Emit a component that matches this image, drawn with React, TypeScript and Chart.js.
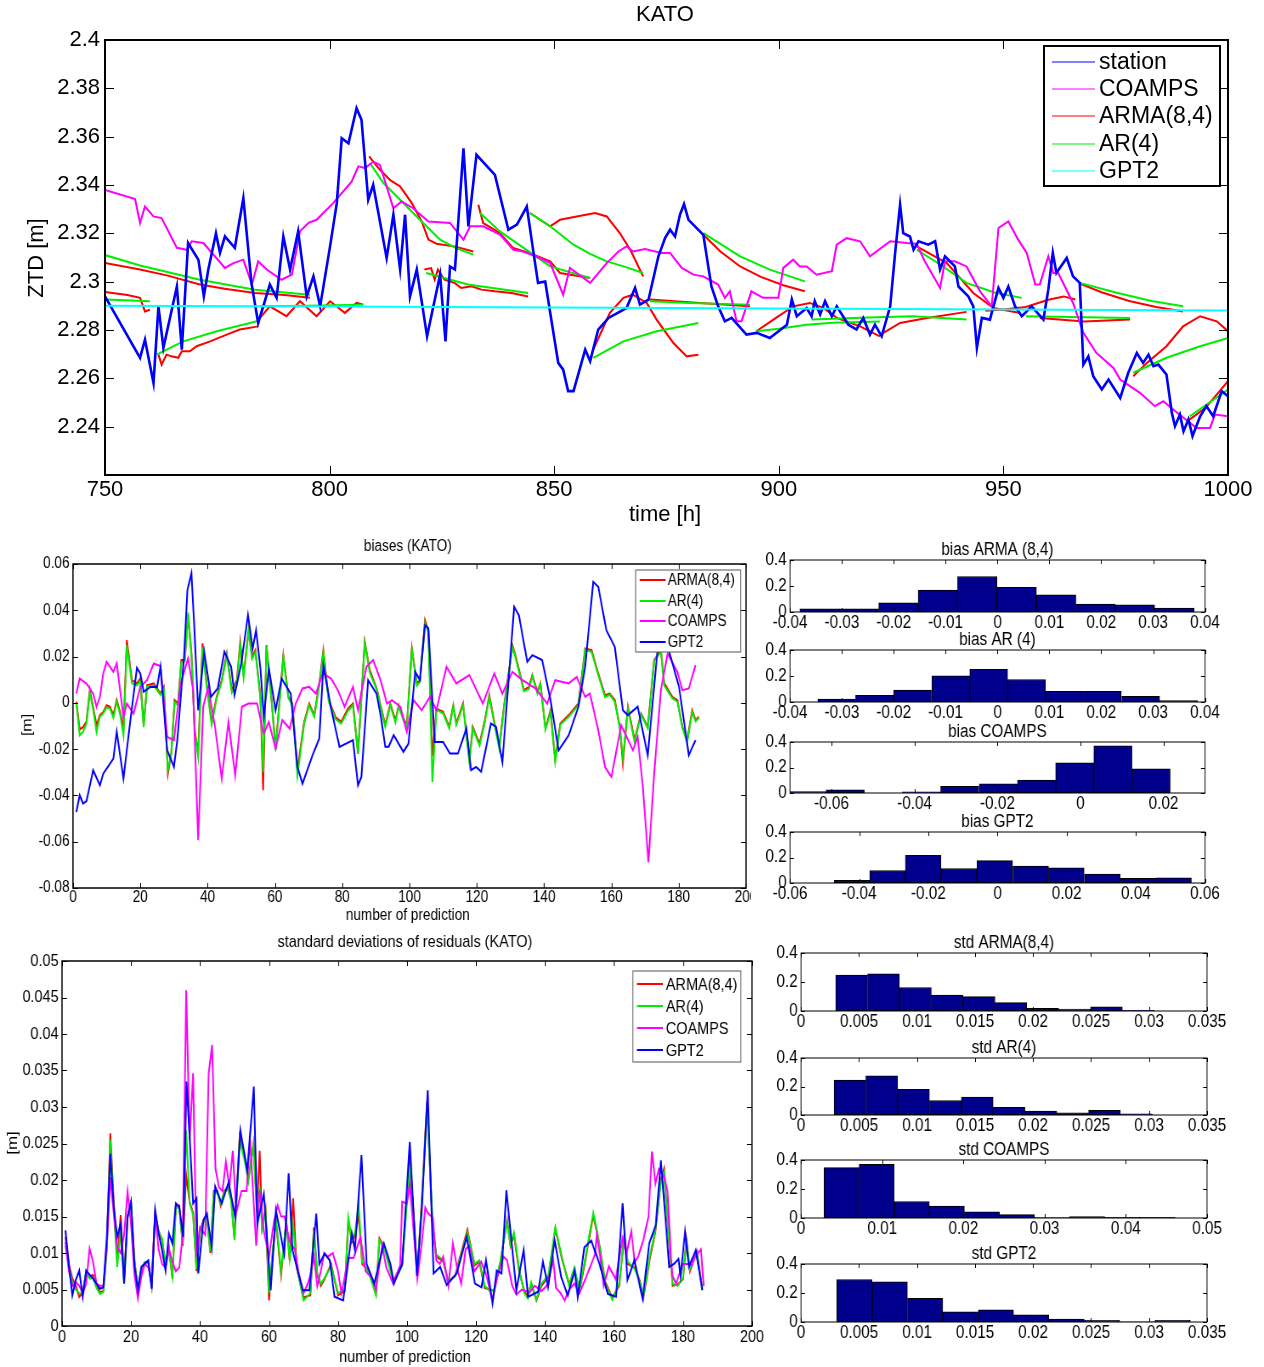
import React, { useEffect, useRef } from "react";
import { Chart, registerables } from "chart.js";
Chart.register(...registerables);

type Pair = [number, number];

// ====================== DATA ======================
// --- top panel: KATO ZTD time series ---
const timeTickLabels = ["750", "800", "850", "900", "950", "1000"];
const ztdTickLabels = ["2.24", "2.26", "2.28", "2.3", "2.32", "2.34", "2.36", "2.38", "2.4"];

const stationZTD: Pair[] = [
  [750, 2.2939], [757.8, 2.2685], [758.9, 2.276], [760.8, 2.2581], [761.9, 2.2898], [763, 2.2726], [766, 2.298], [767.1, 2.2719],
  [768.5, 2.316], [770.8, 2.309], [772, 2.2939], [773, 2.305], [774.7, 2.32], [775.6, 2.3119], [776.7, 2.3187], [778.9, 2.314],
  [780.8, 2.3346], [782.6, 2.2995], [784.1, 2.2829], [786.7, 2.2988], [788.2, 2.2933], [789.7, 2.3187], [791.2, 2.305], [793, 2.3208],
  [794.9, 2.2939], [796.4, 2.3022], [797.9, 2.2898], [800.1, 2.3146], [801.6, 2.3325], [802.7, 2.3594], [804.2, 2.3573], [806, 2.3718],
  [807.1, 2.367], [808.6, 2.3339], [809.7, 2.3401], [812.7, 2.3098], [814.2, 2.3277], [815.7, 2.305], [816.8, 2.3277], [817.9, 2.2939],
  [819.4, 2.305], [821.7, 2.2774], [823.1, 2.2898], [824.6, 2.3029], [825.8, 2.2753], [826.8, 2.3063], [827.9, 2.305], [829.8, 2.3552],
  [830.9, 2.3229], [832.7, 2.3525], [836.8, 2.3442], [839.8, 2.3215], [841.7, 2.3236], [843.9, 2.3311], [845.4, 2.3119], [846.4, 2.2995],
  [848, 2.3001], [850.9, 2.2664], [852, 2.2636], [853.1, 2.2547], [854.3, 2.2547], [856.9, 2.2719], [858, 2.2671], [859.8, 2.2802],
  [862.1, 2.285], [866.1, 2.2891], [868, 2.2974], [869.1, 2.2905], [871, 2.2926], [873.2, 2.3105], [874.7, 2.3181], [875.8, 2.3215],
  [876.9, 2.3187], [878, 2.3277], [878.9, 2.3321], [879.9, 2.3256], [883.2, 2.3194], [885, 2.298], [886.5, 2.2898], [888, 2.2836],
  [889.5, 2.285], [892.8, 2.2781], [895.1, 2.2788], [898, 2.2767], [901.8, 2.2822], [902.9, 2.2926], [904, 2.2857], [906.2, 2.2891],
  [907.3, 2.2857], [908, 2.2919], [909.2, 2.2864], [910.3, 2.2919], [911.8, 2.2857], [912.9, 2.2898], [915.5, 2.2822], [917.3, 2.2802],
  [918.8, 2.285], [920.3, 2.2781], [921.4, 2.2822], [922.9, 2.2774], [924.8, 2.2898], [925.9, 2.3119], [927, 2.3318], [927.7, 2.3201],
  [929.2, 2.3187], [930, 2.3132], [931.1, 2.3167], [933.3, 2.3153], [934.8, 2.3167], [935.9, 2.305], [937, 2.3105], [939.2, 2.3063],
  [940, 2.298], [942.2, 2.2939], [943.3, 2.2898], [944.1, 2.2726], [945.2, 2.285], [947, 2.2843], [948.9, 2.2974], [950, 2.2933],
  [951.1, 2.298], [952.6, 2.2898], [954.1, 2.2857], [956.3, 2.2898], [958.9, 2.2843], [960, 2.2967], [961, 2.3119], [961.8, 2.3036],
  [964.1, 2.3098], [965.5, 2.3022], [967, 2.2995], [967.8, 2.2657], [968.9, 2.2691], [970, 2.2609], [971.9, 2.2554], [973.4, 2.2595],
  [976, 2.2519], [977.8, 2.2623], [979.7, 2.2705], [981.1, 2.2664], [982.3, 2.2698], [983.4, 2.265], [984.5, 2.2657], [986.3, 2.2616],
  [987.5, 2.2457], [988.2, 2.2402], [989.3, 2.245], [990.1, 2.2381], [991.2, 2.243], [992.1, 2.2361], [993.8, 2.2443], [995.2, 2.2485],
  [996.7, 2.2443], [998.6, 2.2547], [1000, 2.2526],
];

const coampsZTD: Pair[] = [
  [750, 2.338], [756.7, 2.3342], [757.8, 2.3243], [758.9, 2.3311], [760.8, 2.327], [762.6, 2.3263], [766, 2.314], [768.2, 2.3132],
  [769.3, 2.3167], [771.9, 2.316], [776.7, 2.3057], [778.6, 2.3077], [780.8, 2.3091], [782.7, 2.2988], [784.1, 2.3084], [786, 2.305],
  [789.3, 2.3008], [791.6, 2.3029], [793.4, 2.3208], [795.3, 2.3243], [797.1, 2.3256], [800.8, 2.3325], [804.9, 2.3414], [806.4, 2.3477],
  [807.9, 2.347], [809.7, 2.3497], [811.2, 2.3483], [814.2, 2.3304], [816, 2.3332], [818.6, 2.3304], [822, 2.3249], [826.8, 2.3243],
  [829.8, 2.3174], [831.3, 2.3229], [834.2, 2.3229], [838, 2.3194], [840.9, 2.3132], [843.1, 2.3125], [846.8, 2.3098], [849.1, 2.3077],
  [852, 2.2946], [853.5, 2.3057], [858, 2.2995], [861.7, 2.3077], [864.3, 2.3125], [866.1, 2.3146], [867.6, 2.3125], [870.2, 2.3135],
  [873.9, 2.3119], [875.8, 2.3119], [878.4, 2.3057], [881, 2.3029], [883.2, 2.3022], [886.5, 2.2988], [888, 2.2933], [889.1, 2.296],
  [890.6, 2.2836], [891.7, 2.2836], [893.9, 2.296], [896.5, 2.2933], [899.9, 2.2933], [901, 2.3057], [903.2, 2.3091], [904.7, 2.3063],
  [906.2, 2.3063], [908.4, 2.3029], [911.8, 2.3043], [912.9, 2.3153], [915.1, 2.318], [918.1, 2.3167], [920.3, 2.3105], [924.8, 2.3167],
  [928.5, 2.316], [930.7, 2.3157], [932.5, 2.3084], [935.9, 2.2974], [937, 2.3084], [939.2, 2.3084], [941.8, 2.3063], [944.8, 2.296],
  [947.4, 2.2898], [948.9, 2.3222], [951.1, 2.3249], [953.3, 2.3174], [955.2, 2.3119], [957.1, 2.2988], [958.1, 2.2988], [960, 2.3105],
  [961.1, 2.3036], [962.2, 2.3036], [965.5, 2.2912], [967.8, 2.2788], [970.7, 2.2705], [974.5, 2.2643], [976, 2.2595], [980.4, 2.254],
  [983.7, 2.2485], [985.6, 2.2505], [987.8, 2.2471], [991.5, 2.2416], [993, 2.2395], [996, 2.2395], [997.1, 2.245], [1000, 2.2443],
];

const gpt2ZTD: Pair[] = [[750, 2.29], [800, 2.2897], [850, 2.2893], [900, 2.2889], [950, 2.2885], [1000, 2.2881]];

const armaForecasts: Pair[][] = [
  [[750, 2.2957], [755, 2.2945], [757.8, 2.2933], [758.9, 2.2877], [760, 2.2884]],
  [[750, 2.3077], [757.8, 2.305], [764, 2.3025], [771.1, 2.2988], [777, 2.297], [783.4, 2.2953], [790, 2.2945], [795.6, 2.2933]],
  [[761.9, 2.2698], [762.6, 2.2657], [763.7, 2.2698], [764.8, 2.2691], [766.3, 2.2685], [767.1, 2.2712], [768.9, 2.2712], [770.4, 2.2733], [773.4, 2.2753], [777.1, 2.2781], [780, 2.2802], [784.1, 2.2815]],
  [[784.5, 2.285], [786.7, 2.2898], [790.4, 2.2857], [793.4, 2.2919], [797.1, 2.2857], [800.1, 2.2919], [803.4, 2.2871], [806, 2.2912], [807.5, 2.2905]],
  [[808.8, 2.3518], [811.2, 2.3463], [813.5, 2.342], [815.7, 2.3394], [818.3, 2.3325], [820.5, 2.3249], [822, 2.3174], [823.8, 2.3157], [828, 2.3145], [832, 2.3125]],
  [[821.1, 2.305], [822.6, 2.3056], [823.4, 2.3008], [824.1, 2.305], [825.6, 2.3008], [827.9, 2.2994], [829.3, 2.2974], [831.6, 2.2981], [833.8, 2.2967], [836.8, 2.296], [840.5, 2.2953], [844.2, 2.2939]],
  [[833.1, 2.3318], [834.2, 2.3242], [837.9, 2.3201], [840.9, 2.3139], [844.6, 2.3118], [849.1, 2.3084], [851.3, 2.3036], [858, 2.3015]],
  [[844.6, 2.3284], [849.1, 2.3229], [851.3, 2.3256], [855, 2.327], [859.1, 2.3284], [861.7, 2.327], [864.6, 2.3201], [867, 2.313], [869.8, 2.3022]],
  [[858.7, 2.2719], [862.4, 2.2871], [865.4, 2.2933], [867.5, 2.2946], [870.6, 2.2912], [872.8, 2.2843], [876.5, 2.2747], [879.5, 2.2691], [882.1, 2.2698]],
  [[871.3, 2.2926], [880, 2.2915], [893.6, 2.2898]],
  [[883.2, 2.3194], [887, 2.3125], [891.4, 2.3063], [896, 2.302], [901, 2.2985], [905.8, 2.296]],
  [[895, 2.2795], [898.8, 2.2843], [903.2, 2.2898], [906.9, 2.2912], [909.9, 2.2891], [912.9, 2.285], [918.1, 2.2815], [922.5, 2.2774]],
  [[923.3, 2.2788], [927, 2.2829], [933, 2.285], [941.8, 2.2875]],
  [[930.7, 2.3146], [937.4, 2.3077], [943.3, 2.2953], [947.8, 2.2891], [953.7, 2.287]],
  [[946, 2.288], [950, 2.2885], [955, 2.2895], [960, 2.2925], [963.4, 2.2939], [966, 2.2926]],
  [[958.1, 2.285], [968, 2.2835], [978.2, 2.2843]],
  [[967, 2.2992], [972, 2.2955], [978, 2.292], [984, 2.2895], [990, 2.2877]],
  [[978.9, 2.2609], [982, 2.2665], [986.3, 2.2733], [990, 2.2815], [993.8, 2.2857], [997.5, 2.2836], [1000, 2.2795]],
  [[991.5, 2.243], [995, 2.2478], [1000, 2.2588]],
];

const arForecasts: Pair[][] = [
  [[750, 2.2926], [760, 2.2919]],
  [[750, 2.311], [757.8, 2.3067], [771.1, 2.3008], [783.4, 2.2967], [795.6, 2.2946]],
  [[761.5, 2.2698], [767.4, 2.2753], [774.9, 2.2795], [783.8, 2.2836]],
  [[784.5, 2.2898], [795, 2.29], [807.5, 2.2905]],
  [[809, 2.349], [812, 2.3408], [815.7, 2.3339], [820.1, 2.3256], [824.6, 2.3174], [828, 2.314], [832, 2.3112]],
  [[821.5, 2.3036], [830.8, 2.2988], [844.2, 2.2953]],
  [[833.5, 2.3284], [837.9, 2.3208], [849.1, 2.3063], [858, 2.3015]],
  [[844.6, 2.3284], [849.1, 2.3229], [854.3, 2.3153], [858, 2.3115], [861.7, 2.3084], [866, 2.306], [869.8, 2.3036]],
  [[858.7, 2.2685], [865.4, 2.2753], [872.8, 2.2795], [882.1, 2.2829]],
  [[871.3, 2.2919], [880, 2.2912], [893.6, 2.2905]],
  [[883.2, 2.3201], [891.4, 2.3105], [898, 2.305], [905.8, 2.3001]],
  [[895, 2.2795], [900, 2.2805], [906.2, 2.2822], [912, 2.283], [922.5, 2.2835]],
  [[907.3, 2.2843], [920, 2.2852], [929.9, 2.2857], [941.8, 2.2843]],
  [[930.7, 2.3132], [936, 2.307], [941.8, 2.2995], [948, 2.2955], [954.1, 2.2933]],
  [[955, 2.2857], [978.2, 2.285]],
  [[967, 2.2995], [975, 2.2955], [983, 2.292], [990, 2.2898]],
  [[978.9, 2.2623], [986.3, 2.2685], [993.8, 2.2733], [1000, 2.2767]],
  [[991.5, 2.2443], [1000, 2.2554]],
];

// --- middle-left: biases ---
const predictionTickLabels = ["0", "20", "40", "60", "80", "100", "120", "140", "160", "180", "200"];
const biasTickLabels = ["-0.08", "-0.06", "-0.04", "-0.02", "0", "0.02", "0.04", "0.06"];

const biasARMA: Pair[] = [
  [1, 0.0005], [2, -0.0115], [3, -0.0105], [4, -0.0082], [5, 0.0055], [6, -0.002], [7, -0.0097], [8, -0.0053], [9, -0.004], [10, -0.001],
  [11, -0.0017], [12, -0.0053], [13, 0.0012], [14, -0.004], [15, -0.0111], [16, 0.0271], [17.5, 0.0098], [19, 0.0084], [20, 0.0105],
  [21, -0.0097], [22, 0.0076], [24, 0.0084], [26, 0.004], [27, 0.0069], [28.2, -0.0306], [29.2, -0.0219], [30.2, 0.0012], [31.2, -0.0003],
  [32.2, 0.0185], [33.2, 0.0185], [34.2, 0.0379], [35.2, 0.0213], [36.2, -0.0118], [37.2, -0.0219], [38.5, 0.0257], [39.7, 0.0084],
  [41.2, -0.0082], [42.7, 0.0026], [44.2, 0.0098], [45.7, 0.0213], [47.2, 0.0055], [48.7, 0.0098], [49.7, 0.0264], [50.7, 0.012],
  [52.2, 0.0314], [53.2, 0.0199], [54.2, 0.0228], [55.7, 0.0026], [56.5, -0.0378], [57.5, 0.0249], [59.2, -0.0017], [60.2, -0.0198],
  [62.5, 0.0206], [64, 0.0026], [65.2, -0.0003], [66.7, -0.0291], [68.7, -0.0082], [70.2, -0.0003], [71.7, -0.0053], [73.2, 0.0084],
  [74.4, 0.0228], [76, 0.0012], [78, -0.0061], [79.7, -0.0082], [81.7, -0.0025], [83.2, -0.0003], [84.7, -0.0219], [86.7, 0.0264],
  [88.2, 0.0141], [90.3, 0.006], [92.8, -0.0097], [94.3, -0.0003], [95.8, -0.0075], [96.8, -0.001], [98.2, -0.0068], [99.2, -0.0097],
  [100.7, 0.0235], [102.2, 0.0084], [103.1, 0.0098], [104.6, 0.0358], [105.6, 0.0314], [106.8, -0.023], [108, -0.0025], [110, -0.0039],
  [111.8, -0.0104], [113, -0.001], [113.9, -0.0089], [115.9, -0.0003], [117.8, -0.0248], [118.8, -0.0104], [120.8, -0.0176],
  [122.3, -0.0082], [123.7, 0.0033], [125.2, -0.0082], [126.7, -0.019], [128.1, -0.001], [130.6, 0.0249], [131.6, 0.0199], [134, 0.0055],
  [135.5, 0.0069], [136.5, 0.012], [138, 0.0048], [138.9, 0.0084], [140.4, -0.0111], [141.9, -0.0032], [143.3, -0.0248], [144.8, -0.0089],
  [147.3, -0.0053], [150.2, -0.0003], [152.2, 0.0235], [154.1, 0.0228], [156.1, 0.0127], [158.1, 0.0033], [159.5, 0.004], [161, 0.0012],
  [162.5, -0.0104], [163.4, -0.0262], [164.9, -0.0017], [166.9, -0.0161], [168.8, -0.0046], [170.8, -0.0104], [172.7, 0.0185],
  [174.7, 0.0228], [175.7, 0.0084], [178.1, 0.0026], [179.6, 0.0012], [181.1, -0.0104], [182.5, -0.0161], [184, -0.0032], [185, -0.0075],
  [186, -0.006],
];

const biasAR: Pair[] = [
  [1, 0.0], [2, -0.014], [3, -0.0125], [4, -0.009], [5, 0.0045], [6, -0.003], [7, -0.0125], [8, -0.006], [9, -0.0045], [10, -0.002],
  [11, -0.0025], [12, -0.0065], [13, 0.0005], [14, -0.005], [15, -0.014], [16, 0.025], [17.5, 0.0085], [19, 0.0075], [20, 0.0095],
  [21, -0.0105], [22, 0.007], [24, 0.0075], [26, 0.0035], [27, 0.006], [28.2, -0.029], [29.2, -0.022], [30.2, 0.0005], [31.2, -0.001],
  [32.2, 0.0175], [33.2, 0.018], [34.2, 0.039], [35.2, 0.0205], [36.2, -0.0125], [37.2, -0.0235], [38.5, 0.024], [39.7, 0.0075],
  [41.2, -0.0095], [42.7, 0.002], [44.2, 0.009], [45.7, 0.0205], [47.2, 0.0045], [48.7, 0.009], [49.7, 0.025], [50.7, 0.011],
  [52.2, 0.031], [53.2, 0.019], [54.2, 0.022], [55.7, 0.002], [56.5, -0.03], [57.5, 0.0245], [59.2, -0.0025], [60.2, -0.0205],
  [62.5, 0.02], [64, 0.002], [65.2, -0.001], [66.7, -0.0315], [68.7, -0.009], [70.2, -0.001], [71.7, -0.006], [73.2, 0.0075],
  [74.4, 0.022], [76, 0.0005], [78, -0.007], [79.7, -0.009], [81.7, -0.0035], [83.2, -0.001], [84.7, -0.022], [86.7, 0.026],
  [88.2, 0.013], [90.3, 0.0055], [92.8, -0.0105], [94.3, -0.001], [95.8, -0.0085], [96.8, -0.0015], [98.2, -0.0075], [99.2, -0.0105],
  [100.7, 0.023], [102.2, 0.0075], [103.1, 0.009], [104.6, 0.0345], [105.6, 0.0305], [106.8, -0.0342], [108, -0.003], [110, -0.0045],
  [111.8, -0.011], [113, -0.0015], [113.9, -0.0095], [115.9, -0.001], [117.8, -0.026], [118.8, -0.011], [120.8, -0.0185],
  [122.3, -0.009], [123.7, 0.0025], [125.2, -0.009], [126.7, -0.02], [128.1, -0.0015], [130.6, 0.024], [131.6, 0.019], [134, 0.005],
  [135.5, 0.006], [136.5, 0.0115], [138, 0.004], [138.9, 0.008], [140.4, -0.0115], [141.9, -0.004], [143.3, -0.0255], [144.8, -0.0095],
  [147.3, -0.006], [150.2, -0.001], [152.2, 0.023], [154.1, 0.022], [156.1, 0.012], [158.1, 0.0025], [159.5, 0.0035], [161, 0.0005],
  [162.5, -0.011], [163.4, -0.024], [164.9, -0.0025], [166.9, -0.017], [168.8, -0.005], [170.8, -0.011], [172.7, 0.018],
  [174.7, 0.022], [175.7, 0.0075], [178.1, 0.002], [179.6, 0.0005], [181.1, -0.011], [182.5, -0.017], [184, -0.004], [185, -0.008],
  [186, -0.0065],
];

const biasCOAMPS: Pair[] = [
  [1, 0.004], [2, 0.0105], [4, 0.0084], [6, 0.004], [7, -0.0017], [8, 0.0026], [9, 0.0127], [10, 0.0177], [12, 0.0134], [13, 0.017],
  [15, -0.0061], [16, -0.0003], [18, -0.0046], [20, 0.0069], [22, 0.0098], [24, 0.017], [26, 0.0159], [28, -0.0147], [30, -0.0161],
  [32, 0.0084], [34.2, 0.0192], [35.7, 0.0055], [37.2, -0.0594], [38.7, -0.0017], [40.2, 0.0069], [42.2, -0.0104], [44.2, -0.0327],
  [46.2, -0.0082], [48.2, -0.0313], [50.2, -0.0017], [52.2, -0.0003], [54.7, -0.0003], [56.7, -0.0133], [58.2, -0.0082], [60.2, -0.0198],
  [62.2, -0.0075], [64.4, -0.0111], [66.2, -0.0003], [68.2, 0.0062], [70.2, 0.0069], [72.2, 0.004], [74.2, 0.0127], [76.7, 0.0105],
  [78.7, 0.0055], [80.7, -0.0017], [83.2, 0.0069], [84.7, -0.0032], [87.2, 0.0156], [89.2, 0.0185], [91.4, 0.0098], [93.3, -0.0003],
  [94.8, 0.0012], [97.3, -0.0017], [99.2, -0.0125], [101.2, 0.0012], [103.6, -0.0032], [106.1, 0.0026], [108, -0.0032], [111, 0.0156],
  [113.9, 0.0084], [117.8, 0.012], [121.8, -0.0003], [125.2, 0.0127], [127.6, 0.004], [130.6, 0.0134], [133.6, 0.0098], [137.5, 0.0062],
  [140.9, -0.0003], [143.3, 0.0098], [147.3, 0.0084], [149.7, 0.0112], [152.2, 0.0026], [153.6, 0.004], [156.1, -0.0118], [158.1, -0.0277],
  [160, -0.032], [162.9, -0.0097], [166.4, -0.0205], [167.8, -0.0147], [169.3, -0.0356], [171, -0.0688], [172.7, -0.0306], [174.7, 0.0055],
  [176.7, 0.0213], [179.6, 0.0134], [181.1, 0.0055], [183, 0.0062], [185, 0.0163],
];

const biasGPT2: Pair[] = [
  [1, -0.0472], [2, -0.0399], [3, -0.0435], [4, -0.0425], [6, -0.0291], [8, -0.0356], [9, -0.0306], [12, -0.0241], [13, -0.0125],
  [15, -0.0327], [17, -0.0082], [19, 0.0151], [20, 0.0127], [21, 0.0048], [23, 0.0069], [25, 0.0069], [26, 0.0156], [28, -0.0205],
  [30, -0.0277], [31, -0.0161], [33, 0.0199], [34, 0.0487], [35.2, 0.056], [36, 0.0343], [37.2, -0.0032], [39, 0.0221], [41, 0.0026],
  [43, 0.0062], [45, 0.0221], [47, 0.0156], [48, 0.0033], [50, 0.017], [52, 0.0379], [53.4, 0.0235], [54.4, 0.0314], [55.7, 0.0149],
  [56.7, -0.0061], [58.2, 0.0149], [60.2, -0.0032], [62, 0.0105], [64.7, 0.004], [66.7, -0.0277], [68.2, -0.0349], [71.2, -0.0226],
  [73.2, -0.0154], [74.4, 0.0163], [76.7, -0.0025], [79.2, -0.019], [83.2, -0.0161], [84.7, -0.0356], [85.7, -0.032], [87.7, 0.0098],
  [90.2, 0.004], [91.5, -0.006], [92.8, -0.019], [93.8, -0.019], [95.3, -0.014], [98.2, -0.0212], [99.7, -0.0176], [101.7, 0.0134],
  [103.1, 0.0098], [104.6, 0.0336], [105.6, 0.0322], [107.5, -0.0169], [110, -0.0169], [112, -0.0219], [114.4, -0.0219], [116.9, -0.0111],
  [118.3, -0.0291], [119.8, -0.0277], [121.3, -0.0298], [124.2, -0.0089], [125.7, -0.0104], [127.6, -0.0255], [131.1, 0.0415],
  [132.5, 0.0379], [135, 0.0177], [136.5, 0.0206], [139.4, 0.0185], [141.9, 0.0012], [144.3, -0.0205], [147.3, -0.014], [150.2, -0.0017],
  [152.2, 0.0156], [154.6, 0.0523], [156.1, 0.0502], [158.5, 0.0314], [161, 0.0242], [163.4, -0.0032], [164.9, -0.0053], [167.8, -0.0017],
  [170.8, -0.0226], [173.7, 0.0228], [175.5, 0.034], [177.2, 0.022], [180.1, 0.0069], [183, -0.0226], [185, -0.0161],
];

// --- bottom-left: standard deviations ---
const stdTickLabels = ["0", "0.005", "0.01", "0.015", "0.02", "0.025", "0.03", "0.035", "0.04", "0.045", "0.05"];

const stdARMA: Pair[] = [
  [1, 0.0122], [2, 0.0085], [3, 0.0065], [4, 0.0055], [5, 0.004], [6, 0.0046], [7, 0.0072], [8, 0.0068], [9, 0.007], [10, 0.0058],
  [11, 0.0046], [12, 0.0048], [13, 0.011], [14, 0.0264], [15, 0.017], [16, 0.009], [17, 0.0152], [18, 0.0065], [19, 0.015], [20, 0.017],
  [21, 0.009], [22, 0.005], [23, 0.0075], [24, 0.0085], [25, 0.0088], [26, 0.0055], [27, 0.0155], [28, 0.013], [29, 0.0118], [30, 0.0085],
  [31, 0.0108], [32, 0.0065], [33, 0.0165], [34, 0.0165], [35, 0.011], [36, 0.0207], [37, 0.017], [38, 0.0155], [39, 0.0075], [40, 0.013],
  [41, 0.0145], [42, 0.015], [43, 0.01], [44, 0.0185], [45, 0.0185], [46, 0.0165], [47, 0.0185], [48, 0.019], [49, 0.0175], [50, 0.012],
  [51.5, 0.026], [53, 0.023], [54, 0.02], [55.5, 0.025], [56.5, 0.016], [57.3, 0.024], [58, 0.0135], [59, 0.016], [60, 0.0035],
  [61, 0.0095], [62, 0.0145], [63.5, 0.007], [65, 0.0145], [66, 0.009], [67, 0.0175], [68, 0.008], [70, 0.0039], [72, 0.0042],
  [73, 0.0135], [74, 0.007], [75, 0.0055], [76, 0.0063], [78, 0.0085], [80, 0.0042], [82, 0.0048], [83, 0.0145], [84, 0.0115],
  [85, 0.0125], [86, 0.0152], [87, 0.0085], [89, 0.0075], [91, 0.0045], [92, 0.012], [93.5, 0.0108], [96, 0.0062], [98.6, 0.0085],
  [100.8, 0.0235], [103, 0.007], [104.5, 0.019], [105.8, 0.0307], [107.5, 0.013], [108.5, 0.0095], [110.5, 0.0088], [112, 0.006],
  [114, 0.007], [117.5, 0.0132], [119.6, 0.0083], [121, 0.0088], [122.5, 0.0052], [124, 0.005], [125.3, 0.0048], [127, 0.0085],
  [129, 0.0145], [130, 0.011], [131, 0.0125], [132.5, 0.0075], [134, 0.0048], [135, 0.004], [136, 0.0058], [137.5, 0.0035],
  [139, 0.0055], [141, 0.0068], [143, 0.0133], [145, 0.009], [147, 0.0057], [148.5, 0.0078], [150, 0.0048], [151.5, 0.0085],
  [154, 0.0152], [155.5, 0.0118], [157.5, 0.006], [159.5, 0.0039], [161.5, 0.0055], [163, 0.0125], [164, 0.0085], [166, 0.008],
  [167.5, 0.0062], [168.5, 0.0038], [170.5, 0.0095], [172, 0.0129], [173.6, 0.02], [174.5, 0.0215], [175.8, 0.0125], [177, 0.0055],
  [178.5, 0.0057], [180, 0.0064], [181, 0.0118], [182, 0.0075], [184, 0.0102], [185.6, 0.0052],
];

const stdAR: Pair[] = [
  [1, 0.011], [2, 0.008], [3, 0.006], [4, 0.005], [5, 0.0045], [6, 0.0044], [7, 0.0075], [8, 0.0065], [9, 0.0066], [10, 0.0052],
  [11, 0.0044], [12, 0.0047], [13, 0.0105], [14, 0.0255], [15, 0.016], [16, 0.0081], [17, 0.013], [18, 0.006], [19, 0.0148], [20, 0.0168],
  [21, 0.0088], [22, 0.0052], [23, 0.0078], [24, 0.0088], [25, 0.0085], [26, 0.0056], [27, 0.0152], [28, 0.0128], [29, 0.012], [30, 0.0082],
  [31, 0.0104], [32, 0.0068], [33, 0.0162], [34, 0.0162], [35, 0.0112], [36, 0.0268], [37, 0.0168], [38, 0.0152], [39, 0.0078],
  [40, 0.0128], [41, 0.0142], [42, 0.0148], [43, 0.0102], [44, 0.0183], [45, 0.0182], [46, 0.0168], [47, 0.0183], [48, 0.0188],
  [49, 0.0172], [50, 0.0118], [51.5, 0.0255], [53, 0.0225], [54, 0.0198], [55.5, 0.0248], [56.5, 0.0155], [57.3, 0.019], [58, 0.0133],
  [59, 0.0158], [60, 0.0045], [61, 0.0098], [62, 0.0148], [63.5, 0.0075], [65, 0.0142], [66, 0.0092], [67, 0.014], [68, 0.0082],
  [70, 0.0035], [72, 0.0045], [73, 0.013], [74, 0.0072], [75, 0.0058], [76, 0.0065], [78, 0.0082], [80, 0.0045], [82, 0.005],
  [83, 0.0148], [84, 0.0118], [85, 0.013], [86, 0.0165], [87, 0.0088], [89, 0.0072], [91, 0.0042], [92, 0.0118], [93.5, 0.0105],
  [96, 0.006], [98.6, 0.0082], [100.8, 0.022], [103, 0.0072], [104.5, 0.0185], [105.8, 0.03], [107.5, 0.0135], [108.5, 0.0098],
  [110.5, 0.009], [112, 0.0062], [114, 0.0068], [117.5, 0.0128], [119.6, 0.0085], [121, 0.009], [122.5, 0.0055], [124, 0.0048],
  [125.3, 0.005], [127, 0.0088], [129, 0.0142], [130, 0.0112], [131, 0.0128], [132.5, 0.0078], [134, 0.0045], [135, 0.0038],
  [136, 0.006], [137.5, 0.0036], [139, 0.0058], [141, 0.007], [143, 0.0135], [145, 0.0092], [147, 0.0055], [148.5, 0.008], [150, 0.005],
  [151.5, 0.0088], [154, 0.0155], [155.5, 0.012], [157.5, 0.0058], [159.5, 0.0036], [161.5, 0.0058], [163, 0.012], [164, 0.0088],
  [166, 0.0078], [167.5, 0.006], [168.5, 0.004], [170.5, 0.0098], [172, 0.0132], [173.6, 0.0198], [174.5, 0.021], [175.8, 0.0128],
  [177, 0.0058], [178.5, 0.0055], [180, 0.0066], [181, 0.0115], [182, 0.0078], [184, 0.01], [185.6, 0.005],
];

const stdCOAMPS: Pair[] = [
  [1, 0.0115], [2, 0.0075], [3, 0.0055], [4, 0.006], [5, 0.0055], [6, 0.0045], [7, 0.0058], [8, 0.0106], [9, 0.0088], [10, 0.0058],
  [11, 0.0055], [12, 0.0055], [13, 0.011], [14, 0.0204], [15, 0.0155], [16, 0.0108], [17, 0.01], [18, 0.0125], [19, 0.0184], [20, 0.014],
  [21, 0.007], [22, 0.0038], [23, 0.0068], [24, 0.0085], [25, 0.008], [26, 0.006], [27, 0.0155], [28, 0.0105], [29, 0.0085], [30, 0.008],
  [31, 0.0105], [32, 0.0088], [33, 0.0075], [34, 0.008], [35, 0.0125], [36, 0.046], [37, 0.0255], [38, 0.0346], [39, 0.0095],
  [40, 0.0135], [41.5, 0.0125], [42.5, 0.0345], [43.5, 0.0385], [44.5, 0.0215], [45.5, 0.019], [46.5, 0.0185], [47.5, 0.0225],
  [48.5, 0.019], [49.5, 0.024], [50.5, 0.0155], [52, 0.0185], [53.5, 0.0185], [54.5, 0.0255], [56.3, 0.011], [57.3, 0.0185],
  [58.5, 0.013], [60, 0.0095], [61.5, 0.0145], [62.5, 0.0165], [63.5, 0.015], [64.5, 0.015], [66, 0.0115], [67.5, 0.0105],
  [68.5, 0.0075], [70, 0.0045], [71, 0.0055], [72, 0.007], [73, 0.0095], [74, 0.0055], [75, 0.0075], [76, 0.01], [77, 0.0095],
  [78.5, 0.01], [80, 0.0075], [81, 0.0045], [83, 0.0093], [84.5, 0.0093], [86.5, 0.0122], [88, 0.0075], [90, 0.0065], [91, 0.005],
  [92.8, 0.011], [94, 0.008], [96, 0.0058], [98, 0.0083], [98.6, 0.017], [100, 0.0168], [100.8, 0.0195], [102, 0.0125], [103, 0.0065],
  [104.3, 0.0115], [105.3, 0.0162], [106, 0.0155], [107.5, 0.0148], [108.5, 0.009], [109.5, 0.0085], [110.5, 0.0095], [112, 0.0055],
  [113.3, 0.0113], [114.5, 0.008], [115.7, 0.0058], [117, 0.0105], [118, 0.011], [119.5, 0.0075], [121.5, 0.0088], [123, 0.007],
  [124.7, 0.0035], [126, 0.0065], [128, 0.0095], [129, 0.009], [130.5, 0.0055], [131.7, 0.0043], [133.3, 0.005], [135.5, 0.0046],
  [137, 0.0055], [139, 0.0048], [140.5, 0.0055], [142.4, 0.009], [143.2, 0.0052], [144.5, 0.0045], [145.7, 0.0035], [147, 0.005],
  [148.5, 0.0058], [150, 0.0045], [152, 0.0068], [154.5, 0.0098], [155, 0.0125], [156, 0.0095], [157, 0.0055], [158.5, 0.0082],
  [160.5, 0.0064], [162.5, 0.012], [163.6, 0.0098], [165, 0.013], [166, 0.0088], [167, 0.0095], [168.5, 0.0118], [170, 0.015],
  [171, 0.0239], [172, 0.0195], [173, 0.0215], [174.5, 0.0205], [175.5, 0.0185], [176.5, 0.0095], [177, 0.0068], [178, 0.0058],
  [179, 0.0072], [180, 0.0085], [181.5, 0.0085], [182.5, 0.0083], [183.5, 0.0095], [185.2, 0.0105], [186, 0.0055],
];

const stdGPT2: Pair[] = [
  [1, 0.0131], [2, 0.0083], [3, 0.0042], [4, 0.0063], [5, 0.0076], [6, 0.004], [7, 0.0076], [9, 0.0065], [11, 0.0051], [12, 0.0053],
  [13, 0.0122], [14, 0.0236], [15, 0.0163], [16, 0.0122], [17, 0.014], [18, 0.0058], [19, 0.0149], [20, 0.017], [21, 0.0083],
  [22, 0.0049], [23, 0.0081], [25, 0.009], [26, 0.0051], [27, 0.0159], [28, 0.0127], [29, 0.0104], [30, 0.0076], [31, 0.0127],
  [32, 0.0113], [33, 0.0168], [34, 0.0163], [35.1, 0.0122], [36.1, 0.0335], [37, 0.0259], [38, 0.0168], [39, 0.0175], [39.5, 0.0072],
  [41, 0.0145], [42, 0.0154], [43.4, 0.0108], [44.4, 0.0191], [46.3, 0.0168], [48.3, 0.0197], [50.2, 0.0149], [51.7, 0.0268],
  [53.7, 0.0213], [55.6, 0.0328], [56.6, 0.014], [58.5, 0.0181], [60.5, 0.0049], [62, 0.0159], [64.4, 0.0099], [65.7, 0.0209],
  [66.8, 0.0104], [69.8, 0.0049], [71.7, 0.0049], [73.7, 0.0154], [74.6, 0.0085], [76.1, 0.0099], [77.6, 0.009], [79, 0.004],
  [81.5, 0.0035], [84, 0.0127], [84.9, 0.0104], [86.8, 0.0234], [88.3, 0.0085], [90.5, 0.0058], [93.3, 0.0113], [95.2, 0.0085],
  [96.2, 0.0058], [98.6, 0.0085], [100.8, 0.0252], [102.9, 0.0069], [104.3, 0.0161], [106, 0.0323], [107.7, 0.0072], [109.6, 0.0081],
  [111.5, 0.0056], [114.4, 0.0072], [117.3, 0.0122], [119.7, 0.0058], [121.6, 0.0053], [122.9, 0.009], [124.8, 0.0031], [126, 0.0076],
  [127.4, 0.0072], [128.8, 0.0186], [131.7, 0.0049], [133.8, 0.0104], [135.1, 0.004], [138, 0.0047], [139.4, 0.0088], [140.9, 0.0053],
  [142.8, 0.0117], [144.7, 0.0067], [146.6, 0.0042], [148.6, 0.0076], [149.5, 0.004], [151.4, 0.0108], [153.4, 0.0117], [155.8, 0.0085],
  [158.2, 0.0044], [160.6, 0.004], [162.5, 0.0168], [163.9, 0.0063], [165.9, 0.009], [168.3, 0.0037], [170.2, 0.0113], [172.1, 0.0138],
  [173.6, 0.0227], [176, 0.0081], [177.4, 0.0085], [178.7, 0.0092], [179.3, 0.0069], [180.6, 0.0129], [181.7, 0.0081], [183.7, 0.0104],
  [185.6, 0.0049],
];

// --- histograms (relative frequency per bin) ---
const histFreqTickLabels = ["0", "0.2", "0.4"];
const biasTickLabels1 = ["-0.04", "-0.03", "-0.02", "-0.01", "0", "0.01", "0.02", "0.03", "0.04"];
const biasTickLabelsCoamps = ["-0.06", "-0.04", "-0.02", "0", "0.02"];
const biasTickLabelsGpt2 = ["-0.06", "-0.04", "-0.02", "0", "0.02", "0.04", "0.06"];
const stdTickLabels1 = ["0", "0.005", "0.01", "0.015", "0.02", "0.025", "0.03", "0.035"];
const stdTickLabelsCoamps = ["0", "0.01", "0.02", "0.03", "0.04", "0.05"];

const biasArmaBins = [-0.0343, -0.0267, -0.0191, -0.0115, -0.0039, 0.0037, 0.0113, 0.0189, 0.0265, 0.0341];
const biasArmaFreq = [0.025, 0.025, 0.071, 0.168, 0.273, 0.19, 0.132, 0.061, 0.056, 0.03];
const biasArBins = [-0.031, -0.0237, -0.0164, -0.009, -0.0017, 0.0056, 0.0129, 0.0202, 0.0276, 0.0349];
const biasArFreq = [0.023, 0.051, 0.092, 0.201, 0.252, 0.173, 0.082, 0.082, 0.043, 0.01];
const biasCoampsBins = [-0.0659, -0.0567, -0.0475, -0.0383, -0.0291, -0.0198, -0.0106, -0.0014, 0.0078, 0.017];
const biasCoampsFreq = [0.012, 0.025, 0, 0.01, 0.052, 0.072, 0.102, 0.237, 0.369, 0.19];
const biasGpt2Bins = [-0.0421, -0.0318, -0.0215, -0.0111, -0.0008, 0.0096, 0.0199, 0.0303, 0.0406, 0.0509];
const biasGpt2Freq = [0.021, 0.098, 0.217, 0.114, 0.175, 0.132, 0.119, 0.07, 0.036, 0.041];

const stdArmaBins = [0.00436, 0.00711, 0.00986, 0.0126, 0.01535, 0.01809, 0.02084, 0.02359, 0.02633, 0.02908];
const stdArmaFreq = [0.247, 0.257, 0.162, 0.109, 0.099, 0.058, 0.018, 0.014, 0.028, 0.005];
const stdArBins = [0.00422, 0.00696, 0.0097, 0.01245, 0.01519, 0.01793, 0.02068, 0.02342, 0.02616, 0.02891];
const stdArFreq = [0.245, 0.275, 0.18, 0.102, 0.125, 0.053, 0.028, 0.016, 0.032, 0.009];
const stdCoampsBins = [0.005, 0.00932, 0.01364, 0.01796, 0.02228, 0.0266, 0.03092, 0.03524, 0.03956, 0.04388];
const stdCoampsFreq = [0.347, 0.37, 0.114, 0.082, 0.043, 0.023, 0.003, 0.009, 0.005, 0.005];
const stdGpt2Bins = [0.0046, 0.00765, 0.0107, 0.01375, 0.0168, 0.01984, 0.02289, 0.02594, 0.02899, 0.03204];
const stdGpt2Freq = [0.293, 0.277, 0.163, 0.07, 0.084, 0.049, 0.021, 0.012, 0.002, 0.012];

// ====================== STYLE ======================
const SANS = "'Liberation Sans', Arial, sans-serif";
const BLUE = "#0000ff";
const MAGENTA = "#ff00ff";
const RED = "#ff0000";
const GREEN = "#00ee00";
const CYAN = "#00ffff";
const NAVY = "#00008c";
const SQUEEZE = 0.85; // lower panels are horizontally condensed in the original figure

const pts = (arr: Pair[]) => arr.map(([x, y]) => ({ x, y }));
const lineDs = (data: Pair[], color: string, width: number) => ({
  data: pts(data), borderColor: color, backgroundColor: color, borderWidth: width,
  pointRadius: 0, fill: false, tension: 0,
});

function axis(a: any, isX: boolean, size: number) {
  const values = a.labels.map(Number);
  return {
    type: "linear", min: a.min, max: a.max, offset: false,
    afterBuildTicks: (s: any) => { s.ticks = values.map((v: number) => ({ value: v })); },
    afterFit: (s: any) => {
      if (isX) s.height = size; else s.width = size;
      s.paddingLeft = 0; s.paddingRight = 0; s.paddingTop = 0; s.paddingBottom = 0;
    },
    grid: { display: false, drawTicks: false },
    border: { display: false },
    ticks: {
      autoSkip: false, maxRotation: 0, minRotation: 0, padding: a.pad, color: "#000",
      font: a.font, callback: (_v: any, i: number) => a.labels[i],
    },
  };
}

function framePlugin(spec: any) {
  const sx = spec.sx || 1;
  return {
    id: "frame",
    afterDraw(chart: any) {
      const ctx = chart.ctx;
      const a = chart.chartArea;
      const xs = chart.scales.x;
      const ys = chart.scales.y;
      const ox = spec.box[0];
      const oy = spec.box[1];
      const X = (x: number) => (x - ox) / sx;
      ctx.save();
      if (spec.legend) {
        const L = spec.legend;
        const [x1, y1, x2, y2] = L.rect;
        ctx.fillStyle = "#fff";
        ctx.fillRect(X(x1), y1 - oy, X(x2) - X(x1), y2 - y1);
        ctx.strokeStyle = L.border;
        ctx.lineWidth = L.borderWidth;
        ctx.strokeRect(X(x1), y1 - oy, X(x2) - X(x1), y2 - y1);
        ctx.font = `${L.size}px ${L.family}`;
        ctx.textAlign = "left";
        ctx.textBaseline = "middle";
        L.items.forEach((it: any, i: number) => {
          const yy = L.rows[i] - oy;
          ctx.strokeStyle = it.color;
          ctx.lineWidth = L.lineWidth;
          ctx.beginPath();
          ctx.moveTo(X(L.line[0]), yy);
          ctx.lineTo(X(L.line[1]), yy);
          ctx.stroke();
          ctx.fillStyle = "#000";
          ctx.fillText(it.label, X(L.textX), yy + 1);
        });
      }
      ctx.strokeStyle = "#000";
      ctx.lineWidth = 1;
      const tl = spec.tickLen;
      ctx.beginPath();
      xs.ticks.forEach((t: any) => {
        const p = Math.round(xs.getPixelForValue(t.value)) + 0.5;
        ctx.moveTo(p, a.bottom); ctx.lineTo(p, a.bottom - tl);
        ctx.moveTo(p, a.top); ctx.lineTo(p, a.top + tl);
      });
      ys.ticks.forEach((t: any) => {
        const p = Math.round(ys.getPixelForValue(t.value)) + 0.5;
        ctx.moveTo(a.left, p); ctx.lineTo(a.left + tl / sx, p);
        ctx.moveTo(a.right, p); ctx.lineTo(a.right - tl / sx, p);
      });
      ctx.stroke();
      ctx.lineWidth = spec.borderWidth;
      ctx.strokeStyle = "#000";
      ctx.strokeRect(a.left, a.top, a.right - a.left, a.bottom - a.top);
      (spec.texts || []).forEach((t: any) => {
        ctx.save();
        ctx.font = `${t.size}px ${t.family}`;
        ctx.fillStyle = "#000";
        ctx.textAlign = "center";
        ctx.textBaseline = "middle";
        ctx.translate(X(t.x), t.y - oy);
        if (t.rotate) ctx.rotate(-Math.PI / 2);
        ctx.fillText(t.text, 0, 0);
        ctx.restore();
      });
      ctx.restore();
    },
  };
}

function buildChart(canvas: HTMLCanvasElement, spec: any) {
  const sx = spec.sx || 1;
  const [bl, bt, bw, bh] = spec.box;
  const [pl, pt, pr, pb] = spec.plot;
  return new Chart(canvas, {
    type: spec.type,
    data: { datasets: spec.datasets },
    options: {
      responsive: false, maintainAspectRatio: false, animation: false, devicePixelRatio: 1, events: [],
      layout: { padding: { left: 0, top: pt - bt, right: (bl + bw - pr) / sx, bottom: 0 } },
      plugins: { legend: { display: false }, tooltip: { enabled: false }, title: { display: false } },
      scales: { x: axis(spec.x, true, bt + bh - pb), y: axis(spec.y, false, (pl - bl) / sx) },
    },
    plugins: [framePlugin(spec)],
  } as any);
}

function Plot({ spec }: { spec: any }) {
  const ref = useRef<HTMLCanvasElement>(null);
  useEffect(() => {
    const c = buildChart(ref.current as HTMLCanvasElement, spec);
    return () => c.destroy();
  }, []);
  const sx = spec.sx || 1;
  const [l, t, w, h] = spec.box;
  return (
    <canvas ref={ref} width={Math.round(w / sx)} height={h}
      style={{ position: "absolute", left: l, top: t, width: w, height: h }} />
  );
}

// ====================== SPECS ======================
const topSpec = {
  type: "line",
  box: [0, 0, 1264, 530],
  plot: [105, 40, 1228, 475],
  datasets: [
    lineDs(gpt2ZTD, CYAN, 2),
    lineDs(stationZTD, BLUE, 2.6),
    lineDs(coampsZTD, MAGENTA, 2),
    ...arForecasts.map((s) => lineDs(s, GREEN, 2)),
    ...armaForecasts.map((s) => lineDs(s, RED, 2)),
  ],
  x: { min: 750, max: 1000, labels: timeTickLabels, font: { family: SANS, size: 22 }, pad: 2 },
  y: { min: 2.22, max: 2.4, labels: ztdTickLabels, font: { family: SANS, size: 22 }, pad: 5 },
  tickLen: 9, borderWidth: 2,
  legend: {
    rect: [1044, 46, 1220, 186], border: "#000", borderWidth: 2, size: 23, family: SANS, lineWidth: 1.2,
    rows: [62, 89, 116, 144, 171], line: [1052, 1095], textX: 1099,
    items: [
      { label: "station", color: BLUE }, { label: "COAMPS", color: MAGENTA }, { label: "ARMA(8,4)", color: RED },
      { label: "AR(4)", color: GREEN }, { label: "GPT2", color: CYAN },
    ],
  },
  texts: [
    { text: "KATO", x: 665, y: 15, size: 22, family: SANS },
    { text: "time [h]", x: 665, y: 515, size: 22, family: SANS },
    { text: "ZTD [m]", x: 37, y: 258, size: 22, family: SANS, rotate: true },
  ],
};

const smallLegendItems = [
  { label: "ARMA(8,4)", color: RED }, { label: "AR(4)", color: GREEN },
  { label: "COAMPS", color: MAGENTA }, { label: "GPT2", color: BLUE },
];

const biasSpec = {
  type: "line",
  sx: SQUEEZE,
  box: [0, 535, 751, 390],
  plot: [73, 564, 746, 888],
  datasets: [
    lineDs(biasGPT2, BLUE, 2),
    lineDs(biasCOAMPS, MAGENTA, 2),
    lineDs(biasAR, GREEN, 2),
    lineDs(biasARMA, RED, 2),
  ],
  x: { min: 0, max: 200, labels: predictionTickLabels, font: { family: SANS, size: 16 }, pad: 0 },
  y: { min: -0.08, max: 0.06, labels: biasTickLabels, font: { family: SANS, size: 16 }, pad: 4 },
  tickLen: 5, borderWidth: 1.5,
  legend: {
    rect: [636, 570, 741, 652], border: "#555", borderWidth: 1, size: 16, family: SANS, lineWidth: 2,
    rows: [580, 601, 621, 642], line: [640, 666], textX: 668, items: smallLegendItems,
  },
  texts: [
    { text: "biases (KATO)", x: 408, y: 547, size: 16, family: SANS },
    { text: "number of prediction", x: 408, y: 916, size: 16, family: SANS },
    { text: "[m]", x: 28, y: 725, size: 16, family: SANS, rotate: true },
  ],
};

const stdSpec = {
  type: "line",
  sx: SQUEEZE,
  box: [0, 928, 770, 439],
  plot: [62, 961, 752, 1326],
  datasets: [
    lineDs(stdGPT2, BLUE, 2),
    lineDs(stdCOAMPS, MAGENTA, 2),
    lineDs(stdAR, GREEN, 2),
    lineDs(stdARMA, RED, 2),
  ],
  x: { min: 0, max: 200, labels: predictionTickLabels, font: { family: SANS, size: 17 }, pad: 1 },
  y: { min: 0, max: 0.05, labels: stdTickLabels, font: { family: SANS, size: 17 }, pad: 4 },
  tickLen: 5, borderWidth: 1.5,
  legend: {
    rect: [633, 971, 741, 1062], border: "#555", borderWidth: 1, size: 17, family: SANS, lineWidth: 2,
    rows: [984, 1006, 1028, 1050], line: [637, 663], textX: 666, items: smallLegendItems,
  },
  texts: [
    { text: "standard deviations of residuals (KATO)", x: 405, y: 942, size: 17, family: SANS },
    { text: "number of prediction", x: 405, y: 1357, size: 17, family: SANS },
    { text: "[m]", x: 13, y: 1143, size: 17, family: SANS, rotate: true },
  ],
};

function histSpec(title: string, plot: number[], xmin: number, xmax: number, xLabels: string[], bins: number[], freq: number[]) {
  const [l, t, r, b] = plot;
  const left = l - 52;
  return {
    type: "bar",
    sx: SQUEEZE,
    box: [left, t - 24, 1264 - left, b + 22 - (t - 24)],
    plot,
    datasets: [{
      data: bins.map((c, i) => ({ x: c, y: freq[i] })),
      backgroundColor: NAVY, borderColor: "#000", borderWidth: 1, borderSkipped: false,
      barPercentage: 1, categoryPercentage: 1,
    }],
    x: { min: xmin, max: xmax, labels: xLabels, font: { family: SANS, size: 18 }, pad: 0 },
    y: { min: 0, max: 0.4, labels: histFreqTickLabels, font: { family: SANS, size: 18 }, pad: 4 },
    tickLen: 4, borderWidth: 1,
    texts: [{ text: title, x: (l + r) / 2, y: t - 10, size: 18, family: SANS }],
  };
}

const histSpecs = [
  histSpec("bias ARMA (8,4)", [790, 560, 1205, 612], -0.04, 0.04, biasTickLabels1, biasArmaBins, biasArmaFreq),
  histSpec("bias AR (4)", [790, 650, 1205, 702], -0.04, 0.04, biasTickLabels1, biasArBins, biasArFreq),
  histSpec("bias COAMPS", [790, 742, 1205, 793], -0.07, 0.03, biasTickLabelsCoamps, biasCoampsBins, biasCoampsFreq),
  histSpec("bias GPT2", [790, 832, 1205, 883], -0.06, 0.06, biasTickLabelsGpt2, biasGpt2Bins, biasGpt2Freq),
  histSpec("std ARMA(8,4)", [801, 953, 1207, 1011], 0, 0.035, stdTickLabels1, stdArmaBins, stdArmaFreq),
  histSpec("std AR(4)", [801, 1058, 1207, 1115], 0, 0.035, stdTickLabels1, stdArBins, stdArFreq),
  histSpec("std COAMPS", [801, 1160, 1207, 1218], 0, 0.05, stdTickLabelsCoamps, stdCoampsBins, stdCoampsFreq),
  histSpec("std GPT2", [801, 1264, 1207, 1322], 0, 0.035, stdTickLabels1, stdGpt2Bins, stdGpt2Freq),
];

export default function App() {
  return (
    <div style={{ position: "absolute", left: 0, top: 0, width: 1264, height: 1367, background: "#fff", overflow: "hidden" }}>
      <Plot spec={topSpec} />
      <Plot spec={biasSpec} />
      <Plot spec={stdSpec} />
      {histSpecs.map((s, i) => <Plot key={i} spec={s} />)}
    </div>
  );
}
